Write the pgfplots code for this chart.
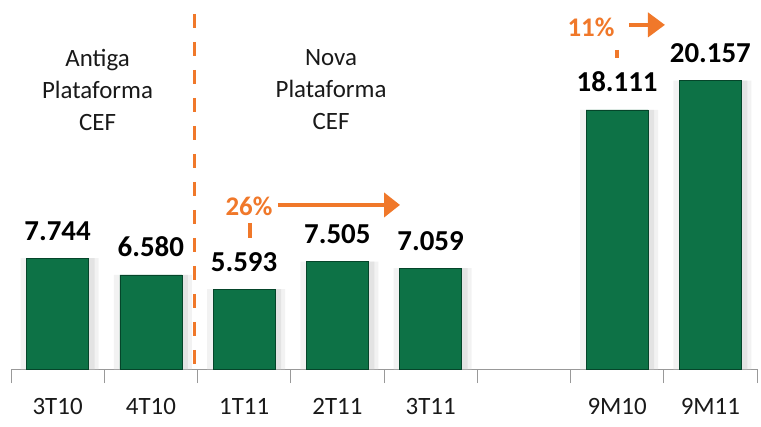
\documentclass[border=0pt]{standalone}
\usepackage{fontspec}
\setmainfont{Carlito}
\usepackage{pgfplots}
\pgfplotsset{compat=1.18}
\usetikzlibrary{arrows.meta,calc}
\definecolor{orng}{HTML}{F0782A}
\definecolor{gdark}{HTML}{05452A}
\definecolor{gmid}{HTML}{0D7246}
\definecolor{gleft}{HTML}{0A5C38}
\pgfdeclarehorizontalshading{barsh}{100bp}{color(0bp)=(gleft); color(10bp)=(gmid); color(82bp)=(gmid); color(100bp)=(gdark)}
\begin{document}
\begin{tikzpicture}
\begin{axis}[
 scale only axis, width=746bp, height=369bp,
 xmin=-0.5, xmax=7.5, ymin=0, ymax=25.8,
 axis x line*=bottom, axis y line=none,
 x axis line style={draw=black!40, line width=0.8bp, -},
 xtick={0,...,7}, xticklabels={3T10,4T10,1T11,2T11,3T11,,9M10,9M11},
 major tick length=0pt,
 minor xtick={-0.5,0.5,...,7.5},
 minor tick length=14bp,
 minor x tick style={draw=black!40, line width=0.8bp},
 tick align=outside,
 xticklabel style={font=\fontsize{25}{25}\selectfont, yshift=-26bp, text=black!90},
 ybar, bar width=62bp,
 clip=false,
]
\addplot[fill=black!5, draw=none, bar shift=2bp, bar width=78bp, forget plot]
 coordinates {(0,7.744) (1,6.580) (2,5.593) (3,7.505) (4,7.059) (6,18.111) (7,20.157)};
\addplot[fill=black!11, draw=none, bar shift=3bp, bar width=68bp, forget plot]
 coordinates {(0,7.744) (1,6.580) (2,5.593) (3,7.505) (4,7.059) (6,18.111) (7,20.157)};
\addplot[draw=gdark, line width=0.5bp, shading=barsh,
 nodes near coords, point meta=explicit symbolic,
 every node near coord/.append style={font=\fontsize{29}{29}\selectfont\bfseries, text=black, anchor=base, yshift=18bp}]
 coordinates {(0,7.744) [7.744] (1,6.580) [6.580] (2,5.593) [5.593] (3,7.505) [7.505] (4,7.059) [7.059] (6,18.111) [18.111] (7,20.157) [20.157]};

\draw[orng, line width=3bp, dash pattern=on 14bp off 14bp] (axis cs:1.4625,24.83) -- (axis cs:1.4625,0);
\node[align=center, font=\fontsize{25}{32}\selectfont, text=black!90] at (axis cs:0.428,19.51) {Antiga\\Plataforma\\CEF};
\node[align=center, font=\fontsize{25}{32}\selectfont, text=black!90] at (axis cs:2.932,19.51) {Nova\\Plataforma\\CEF};

\node[font=\fontsize{27}{27}\selectfont\bfseries, text=orng] at (axis cs:2.052,11.40) {26\%};
\draw[orng, line width=3.5bp] (axis cs:2.063,10.21) -- (axis cs:2.063,9.16);
\draw[orng, line width=4bp, -{Triangle[length=16bp, width=24bp]}] (axis cs:2.363,11.47) -- (axis cs:3.672,11.47);

\node[font=\fontsize{27}{27}\selectfont\bfseries, text=orng] at (axis cs:5.72,23.92) {11\%};
\draw[orng, line width=3.5bp] (axis cs:6.00,22.31) -- (axis cs:6.00,21.75);
\draw[orng, line width=4bp, -{Triangle[length=17bp, width=24bp]}] (axis cs:6.127,24.06) -- (axis cs:6.513,24.06);

\coordinate (A) at (rel axis cs:0,0);
\coordinate (B) at (rel axis cs:1,1);
\end{axis}
\pgfresetboundingbox
\path[use as bounding box] ($(A)+(-11bp,-57bp)$) rectangle ($(B)+(4bp,0bp)$);
\end{tikzpicture}
\end{document}
